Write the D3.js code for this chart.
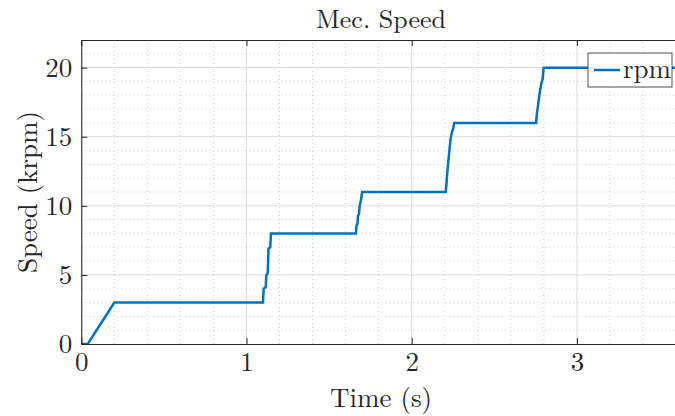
<!DOCTYPE html>
<html>
<head>
<meta charset="utf-8">
<script src="https://cdn.jsdelivr.net/npm/d3@7"></script>
<style>
  html, body { margin: 0; padding: 0; background: #fff; }
  svg text { font-family: "Latin Modern Roman", "CMU Serif", "Liberation Serif", serif; fill: #262626; }
</style>
</head>
<body>
<svg id="chart" width="675" height="416"></svg>
<script>
// Mechanical speed trace (time in s, speed in krpm)
const timeS = [
  0, 0.039, 0.200,
  1.100, 1.104, 1.116, 1.120, 1.128, 1.131, 1.133, 1.144, 1.148,
  1.662, 1.666, 1.672, 1.675, 1.681, 1.685, 1.693, 1.700,
  2.206, 2.210, 2.214, 2.220, 2.228, 2.236, 2.245, 2.252, 2.257,
  2.753, 2.757, 2.766, 2.775, 2.784, 2.793, 2.799,
  3.600
];
const speedKrpm = [
  0, 0, 3.0,
  3.0, 4.0, 4.1, 5.0, 5.1, 6.0, 6.9, 7.0, 8.0,
  8.0, 8.6, 8.7, 9.3, 9.4, 10.0, 10.4, 11.0,
  11.0, 11.5, 12.2, 13.0, 14.0, 14.9, 15.4, 15.6, 16.0,
  16.0, 16.6, 17.4, 18.2, 18.8, 19.2, 20.0,
  20.0
];
const xTicks = [0, 1, 2, 3];
const yTicks = [0, 5, 10, 15, 20];
const xDomain = [0, 3.6];
const yDomain = [0, 22];
const titleText = "Mec. Speed";
const xLabel = "Time (s)";
const yLabel = "Speed (krpm)";
const seriesName = "rpm";

const svg = d3.select("#chart");
const margin = { left: 81.3, top: 40, bottom: 344 };
const x = d3.scaleLinear().domain(xDomain).range([margin.left, margin.left + 3.6 * 165.2]);
const y = d3.scaleLinear().domain(yDomain).range([margin.bottom, margin.top]);
const [x0, x1] = x.range();
const [y0, y1] = y.range();

const axisColor = "#262626";
const fontSize = 27;

// clip region for plot contents
svg.append("defs").append("clipPath").attr("id", "plotClip")
  .append("rect").attr("x", x0).attr("y", y1).attr("width", x1 - x0).attr("height", y0 - y1);

const grid = svg.append("g").attr("clip-path", "url(#plotClip)");

// minor grid (dotted)
const xMinor = d3.range(0, 3.6001, 0.2).filter(v => Math.abs(v - Math.round(v)) > 1e-6);
const yMinor = d3.range(0, 22.001, 1).filter(v => v % 5 !== 0);
grid.selectAll(".xminor").data(xMinor).join("line")
  .attr("x1", d => x(d)).attr("x2", d => x(d)).attr("y1", y0).attr("y2", y1)
  .attr("stroke", "#c4c4c4").attr("stroke-width", 0.8).attr("stroke-dasharray", "1,3");
grid.selectAll(".yminor").data(yMinor).join("line")
  .attr("x1", x0).attr("x2", x1).attr("y1", d => y(d)).attr("y2", d => y(d))
  .attr("stroke", "#c4c4c4").attr("stroke-width", 0.8).attr("stroke-dasharray", "1,3");

// major grid
grid.selectAll(".xmajor").data(xTicks.slice(1)).join("line")
  .attr("x1", d => x(d)).attr("x2", d => x(d)).attr("y1", y0).attr("y2", y1)
  .attr("stroke", "#dcdcdc").attr("stroke-width", 1);
grid.selectAll(".ymajor").data(yTicks.slice(1)).join("line")
  .attr("x1", x0).attr("x2", x1).attr("y1", d => y(d)).attr("y2", d => y(d))
  .attr("stroke", "#dcdcdc").attr("stroke-width", 1);

// data line
const pts = timeS.map((t, i) => [t, speedKrpm[i]]);
svg.append("path")
  .attr("clip-path", "url(#plotClip)")
  .attr("d", d3.line().x(d => x(d[0])).y(d => y(d[1]))(pts))
  .attr("fill", "none").attr("stroke", "#0072BD").attr("stroke-width", 2.5)
  .attr("stroke-linejoin", "miter");

// axes (ticks pointing inward)
function styleAxis(g) {
  g.select(".domain").attr("stroke", axisColor).attr("stroke-width", 1.1);
  g.selectAll(".tick line").attr("stroke", axisColor).attr("stroke-width", 1);
  g.selectAll(".tick text").attr("font-size", fontSize).attr("fill", axisColor)
    .style("font-family", "\"Latin Modern Roman\", \"CMU Serif\", \"Liberation Serif\", serif");
}
const xAxis = svg.append("g").attr("transform", `translate(0,${y0})`)
  .call(d3.axisBottom(x).tickValues(xTicks).tickFormat(d3.format("d")).tickSizeInner(-6).tickSizeOuter(0).tickPadding(14));
styleAxis(xAxis);
xAxis.selectAll(".tick text").attr("dy", "0.71em").attr("y", 8);

const xTop = svg.append("g").attr("transform", `translate(0,${y1})`)
  .call(d3.axisTop(x).tickValues(xTicks).tickFormat("").tickSizeInner(-6).tickSizeOuter(0));
styleAxis(xTop);

const yAxis = svg.append("g").attr("transform", `translate(${x0},0)`)
  .call(d3.axisLeft(y).tickValues(yTicks).tickFormat(d3.format("d")).tickSizeInner(-6).tickSizeOuter(0));
styleAxis(yAxis);
yAxis.selectAll(".tick text").attr("x", -9).attr("dy", "0.33em");

// title and axis labels
svg.append("text").attr("x", 381).attr("y", 28).attr("text-anchor", "middle")
  .attr("font-size", 26).text(titleText);
svg.append("text").attr("x", 381).attr("y", 407).attr("text-anchor", "middle")
  .attr("font-size", fontSize).text(xLabel);
svg.append("text").attr("transform", `translate(37,${(y0 + y1) / 2}) rotate(-90)`)
  .attr("text-anchor", "middle").attr("font-size", fontSize).text(yLabel);

// legend
const lg = svg.append("g").attr("transform", "translate(588,53)");
lg.append("rect").attr("width", 84).attr("height", 34)
  .attr("fill", "#fff").attr("stroke", axisColor).attr("stroke-width", 0.8);
lg.append("line").attr("x1", 6).attr("x2", 32).attr("y1", 17).attr("y2", 17)
  .attr("stroke", "#0072BD").attr("stroke-width", 2.5);
lg.append("text").attr("x", 35).attr("y", 25).attr("font-size", fontSize).text(seriesName);
</script>
</body>
</html>
